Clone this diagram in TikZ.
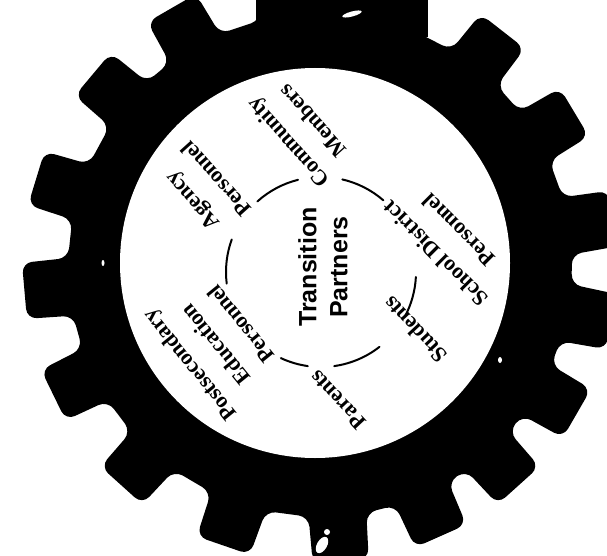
\documentclass[tikz,border=0pt]{standalone}
\usepackage{fontspec}
\setmainfont{Liberation Serif}
\setsansfont{Liberation Sans}
\begin{document}
\begin{tikzpicture}[x=1pt,y=1pt,
  lbl/.style={font=\fontsize{22}{33}\selectfont\bfseries, align=center, inner sep=0pt},
  ctr/.style={font=\fontsize{25}{31}\selectfont\sffamily\bfseries, align=center, inner sep=0pt, rotate=90},
  link/.style={line width=2pt, line cap=round},
  speck/.style={fill=white}]
\path[use as bounding box] (0,0) rectangle (607,555);
\fill[white] (0,0) rectangle (607,555);
\clip (0,0) rectangle (607,555);
\coordinate (gc) at (320,290);
\coordinate (wc) at (315,292);
\coordinate (ic) at (321,283);
% gear
\fill[black, rounded corners=10pt] ([shift={(gc)}]-1.5:252)
  \foreach \a in {9,31,52,74,97,120,140,163,185,206,228,251,274,294,312,330,349} {
    -- ([shift={(gc)}]\a-6.6:252) -- ([shift={(gc)}]\a-5.4:298)
    -- ([shift={(gc)}]\a+5.4:298) -- ([shift={(gc)}]\a+6.6:252) } -- cycle;
% top edge of the scan, filled black
\fill[black] (256,518) rectangle (428,555);
\fill[white] (wc) circle (195);
% scan marks
\fill[speck, rotate around={15:(352,541)}] (352,541) ellipse (10 and 2.5);
\fill[speck] (327,23) circle (3);
\fill[speck, rotate around={-30:(322,10)}] (322,10) ellipse (5 and 9);
\fill[speck] (103,292) ellipse (1.5 and 3);
\fill[speck] (500,195) ellipse (2 and 3);
% inner ring arcs
\draw[link] ([shift={(ic)}]49:95) arc (49:77:95);
\draw[link] ([shift={(ic)}]104:95) arc (104:132:95);
\draw[link] ([shift={(ic)}]160:95) arc (160:187:95);
\draw[link] ([shift={(ic)}]245:95) arc (245:262:95);
\draw[link] ([shift={(ic)}]278:95) arc (278:308:95);
\draw[link] ([shift={(ic)}]-28:95) arc (-28:-3:95);
% labels
\node[lbl, rotate=132] (community) at (300,423) {Community\\Members};
\node[lbl, rotate=132] (agency) at (204,365) {Agency\\Personnel};
\node[lbl, rotate=135] (school) at (447,313) {School District\\Personnel};
\node[lbl, rotate=133] (students) at (415,225) {Students};
\node[lbl, rotate=133] (parents) at (338,155) {Parents};
\node[lbl, rotate=129] (post) at (215,210) {Postsecondary\\Education\\Personnel};
\node[ctr] (tp) at (323,288) {Transition\\Partners};
\end{tikzpicture}
\end{document}
